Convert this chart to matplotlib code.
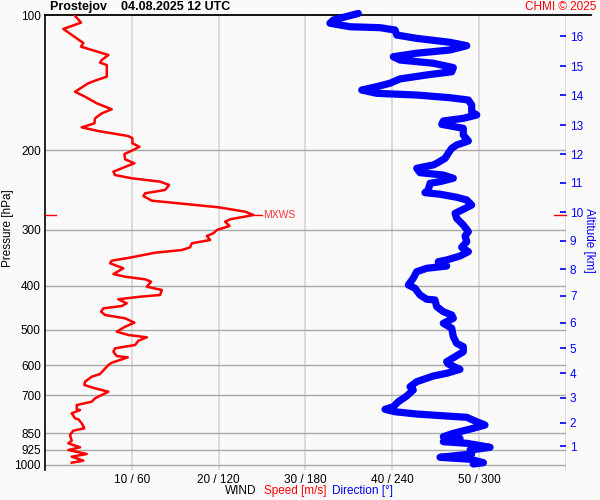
import matplotlib
matplotlib.use("Agg")
import matplotlib.pyplot as plt
import matplotlib.transforms as mtransforms

plt.rcParams['font.family'] = ['Liberation Sans', 'DejaVu Sans']

# ---- data ----
speed_p = [100, 104.0, 107.4, 115.4, 117.6, 122.7, 125.9, 127.6, 129.2, 137.1, 139.5, 141.8,
           148.1, 151.9, 157.1, 162.0, 165.4, 169.7, 174.1, 177.7, 181.1, 185.8, 187.9, 192.8,
           196.2, 199.5, 203.7, 209.3, 213.6, 215.4, 222.9, 226.8, 230.6, 234.6, 238.6, 244.8,
           249.0, 252.5, 258.6, 262.1, 267.5, 273.6, 278.3, 284.4, 288.0, 294.4, 300.4, 305.5,
           309.8, 316.2, 321.6, 328.3, 332.9, 337.5, 345.5, 351.6, 356.3, 365.5, 376.4, 381.6,
           386.7, 391.5, 401.6, 408.4, 419.0, 422.7, 428.3, 437.2, 443.3, 448.6, 456.4, 464.2,
           472.1, 482.8, 492.8, 505.6, 514.2, 520.3, 529.5, 541.2, 550.5, 560.2, 572.7, 576.5,
           592.6, 599.6, 612.9, 627.8, 636.5, 653.0, 664.1, 675.5, 687.3, 711.0, 723.4, 735.8,
           752.1, 754.8, 767.6, 787.5, 791.5, 807.9, 828.8, 839.1, 857.7, 883.1, 895.0, 913.5,
           926.3, 945.3, 958.5, 978.2, 988.3]
speed_ms = [3.38, 4.15, 2.11, 4.42, 4.15, 7.30, 6.54, 6.34, 7.12, 7.12, 5.96, 4.99,
            3.46, 4.61, 5.96, 7.69, 6.54, 5.77, 5.69, 4.23, 6.15, 9.61, 10.07, 10.07,
            10.88, 10.18, 9.15, 9.23, 10.30, 9.80, 7.88, 8.07, 10.0, 13.26, 14.30, 13.84,
            11.53, 11.34, 12.31, 15.37, 19.99, 23.07, 24.03, 21.34, 20.76, 21.26, 19.80, 19.41,
            18.65, 19.03, 16.92, 16.72, 15.77, 12.69, 10.0, 7.69, 7.50, 9.03, 7.88, 9.23,
            11.53, 12.23, 11.73, 13.46, 13.26, 10.96, 8.45, 9.42, 8.85, 6.72, 6.46, 6.92,
            9.23, 10.30, 9.23, 8.27, 9.61, 11.73, 10.76, 10.38, 8.07, 7.88, 8.27, 9.54,
            7.69, 7.30, 6.84, 6.34, 5.39, 4.61, 4.53, 5.77, 7.30, 5.77, 5.39, 3.66,
            3.66, 4.04, 3.08, 3.46, 3.84, 4.23, 4.53, 3.26, 2.88, 3.08, 2.69, 4.04,
            2.69, 4.81, 3.08, 4.42, 3.08]

dir_p = [99.2, 102.6, 104.3, 106.2, 106.7, 108.0, 110.8, 112.7, 115.0, 117.0, 119.6, 121.6,
         123.8, 125.9, 128.0, 130.9, 133.7, 135.9, 138.7, 141.8, 144.3, 146.8, 149.3, 150.6,
         152.7, 154.5, 158.5, 164.0, 166.8, 169.7, 172.0, 175.0, 178.6, 184.8, 190.5, 194.5,
         197.8, 202.9, 208.2, 213.6, 215.4, 219.1, 224.1, 226.8, 230.6, 234.6, 236.6, 244.8,
         248.2, 250.2, 254.1, 257.7, 264.4, 270.3, 275.9, 283.0, 292.9, 303.1, 309.8, 319.0,
         328.3, 335.7, 343.2, 350.3, 353.4, 361.3, 365.5, 371.9, 384.7, 398.1, 404.9, 419.0,
         428.3, 429.8, 444.8, 456.4, 464.2, 472.1, 484.3, 496.8, 518.7, 536.6, 546.0, 560.2,
         574.6, 589.5, 596.5, 612.9, 625.5, 634.2, 653.0, 669.9, 681.3, 702.6, 723.4, 742.1,
         752.1, 761.5, 770.5, 783.6, 801.5, 815.1, 828.8, 850.5, 865.3, 872.6, 887.7, 895.0,
         913.5, 926.3, 945.3, 961.4, 971.2, 988.3, 995.0]
dir_deg = [216.6, 199.3, 197.0, 210.9, 231.6, 242.0, 243.2, 257.0, 280.0, 291.6, 280.0, 257.0,
           240.8, 245.4, 268.5, 282.3, 281.2, 263.9, 245.4, 238.5, 229.3, 219.0, 229.3, 257.0,
           280.0, 292.7, 295.0, 295.0, 298.5, 289.2, 275.4, 274.3, 289.2, 289.2, 292.7, 284.6,
           281.2, 278.8, 276.6, 270.8, 268.5, 257.0, 259.3, 275.4, 282.3, 273.1, 266.2, 265.0,
           262.7, 273.1, 284.6, 291.6, 295.0, 289.2, 283.5, 284.6, 289.2, 292.7, 290.4, 291.6,
           288.1, 292.7, 286.9, 277.7, 271.9, 277.7, 263.9, 257.0, 254.6, 251.2, 255.8, 259.3,
           263.9, 269.6, 270.8, 275.4, 281.2, 282.3, 275.4, 281.2, 282.3, 284.6, 289.2, 289.2,
           283.5, 277.7, 278.8, 286.9, 277.7, 268.5, 257.0, 252.4, 254.6, 250.1, 244.3, 240.8,
           235.1, 242.0, 257.0, 291.6, 298.5, 304.2, 296.1, 282.3, 275.4, 286.9, 275.4, 291.6,
           307.7, 293.9, 295.0, 273.1, 293.9, 303.1, 296.1]

pressure_levels = [100, 200, 300, 400, 500, 600, 700, 850, 925, 1000]
grid_levels = [200, 300, 400, 500, 600, 700, 850, 925, 1000]
speed_ticks = [10, 20, 30, 40, 50]
speed_tick_labels = ["10 / 60", "20 / 120", "30 / 180", "40 / 240", "50 / 300"]
speed_grid = [10, 20, 30, 40, 50, 60]
alt_km = [16, 15, 14, 13, 12, 11, 10, 9, 8, 7, 6, 5, 4, 3, 2, 1]
alt_p = [111.5, 130.0, 150.8, 175.9, 203.7, 236.2, 274.5, 317.8, 367.4, 421.1,
         482.7, 550.5, 625.6, 708.7, 805.4, 907.6]
mxws_p = 278.3
mxws_speed = 24.03

BG = '#fafafa'
RED = '#ff0000'
BLUE = '#0000ff'

fig = plt.figure(figsize=(6, 5), dpi=100, facecolor=BG)
ax = fig.add_axes([45/600, 1-470/500, (565.7-45)/600, (470-15)/500])
ax.set_facecolor(BG)
ax.set_yscale('log')
ax.set_ylim(1026, 100)
ax.set_xlim(0, 60)

for s in ['top', 'right', 'bottom']:
    ax.spines[s].set_visible(False)
ax.spines['left'].set_color('black')
ax.spines['left'].set_linewidth(1.2)

for g in speed_grid:
    ax.axvline(g, color='#d9d9d9', lw=1.3, zorder=1)
for p in grid_levels:
    ax.axhline(p, color='#a8a8a8', lw=1.0, zorder=1)

# top black line extending beyond the axes
trans = mtransforms.blended_transform_factory(ax.transAxes, ax.transData)
ax.plot([0, 1.049], [100, 100], color='black', lw=1.3, transform=trans, clip_on=False, zorder=3)

ax.yaxis.set_major_locator(matplotlib.ticker.FixedLocator(pressure_levels))
ax.yaxis.set_minor_locator(matplotlib.ticker.NullLocator())
ax.set_yticklabels([str(p) for p in pressure_levels])
ax.tick_params(axis='y', length=0, pad=3, labelsize=8.5)
ax.set_xticks(speed_ticks)
ax.set_xticklabels(speed_tick_labels)
ax.tick_params(axis='x', length=0, pad=3, labelsize=8.5)

ax.plot(speed_ms, speed_p, color=RED, lw=1.8, zorder=4, solid_joinstyle='round')
ax.plot(dir_deg, dir_p, color=BLUE, lw=5.2, zorder=5,
        transform=mtransforms.Affine2D().scale(60/360, 1) + ax.transData,
        solid_capstyle='round', solid_joinstyle='round', clip_on=False)

# MXWS marks
ax.plot([0, 1.3], [mxws_p, mxws_p], color=RED, lw=1.0, clip_on=False, zorder=6)
ax.plot([58.7, 60], [mxws_p, mxws_p], color=RED, lw=1.0, clip_on=False, zorder=6)
ax.plot([mxws_speed, mxws_speed + 1.0], [mxws_p, mxws_p], color=RED, lw=1.0, zorder=6)
ax.text(mxws_speed + 1.1, mxws_p, "MXWS", color='#ff3333', fontsize=7.5, va='center', ha='left')

# right altitude axis
ax2 = ax.twinx()
ax2.set_yscale('log')
ax2.set_ylim(1026, 100)
for s in ax2.spines.values():
    s.set_visible(False)
ax2.yaxis.set_major_locator(matplotlib.ticker.FixedLocator(alt_p))
ax2.yaxis.set_minor_locator(matplotlib.ticker.NullLocator())
ax2.set_yticklabels([str(a) for a in alt_km])
ax2.tick_params(axis='y', direction='in', length=4.5, width=1.2, color=BLUE,
                labelcolor=BLUE, labelsize=8.5, pad=3)

# texts
fig.text(50/600, 1-7/500, "Prostejov    04.08.2025 12 UTC", fontsize=9, fontweight='bold',
         ha='left', va='center')
fig.text(596/600, 1-7/500, "CHMI © 2025", fontsize=8.5, color=RED, ha='right', va='center')
fig.text(8/600, 1-228/500, "Pressure [hPa]", fontsize=8.5, rotation=90, ha='center', va='center')
fig.text(589/600, 1-240/500, "Altitude [km]", fontsize=8.5, rotation=270, color=BLUE,
         ha='center', va='center')
fig.text(225/600, 1-491/500, "WIND", fontsize=8.5, ha='left', va='center')
fig.text(264/600, 1-491/500, "Speed [m/s]", fontsize=8.5, color=RED, ha='left', va='center')
fig.text(332/600, 1-491/500, "Direction [°]", fontsize=8.5, color=BLUE, ha='left', va='center')

fig.savefig("out.png", dpi=100, facecolor=BG)
